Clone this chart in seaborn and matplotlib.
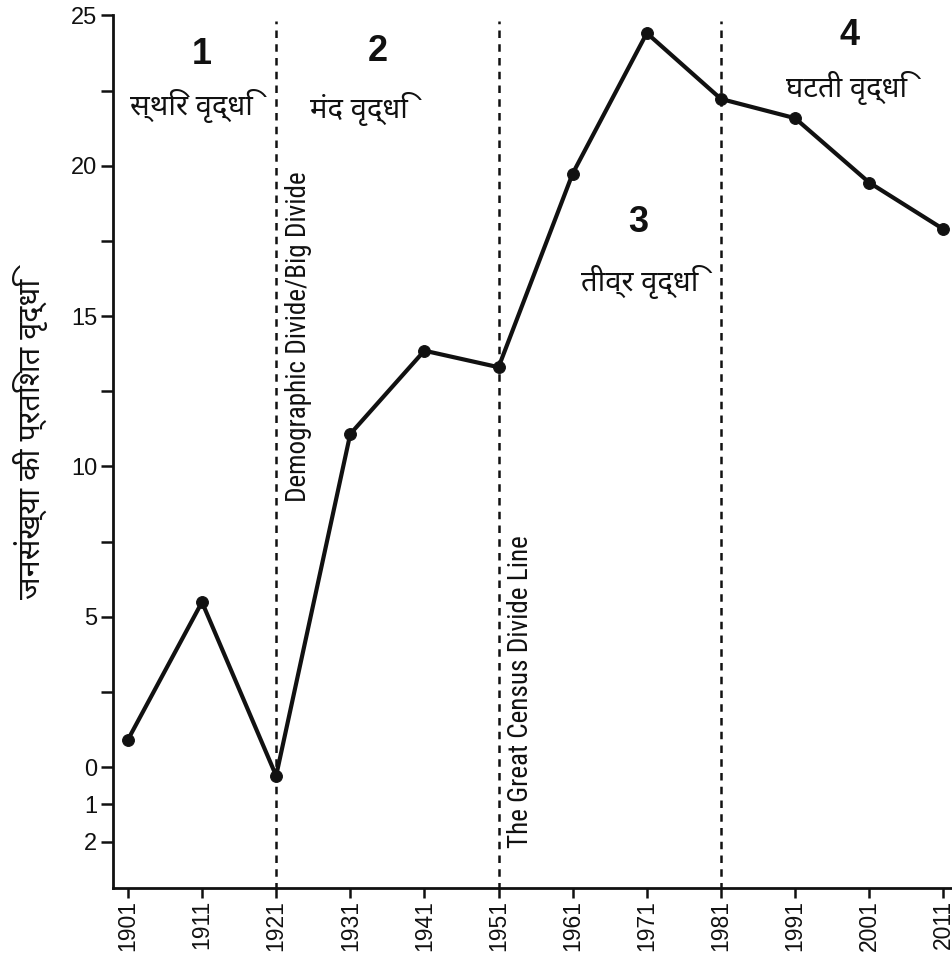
import numpy as np
import matplotlib
matplotlib.use("Agg")
import matplotlib.pyplot as plt
import seaborn as sns

# Decadal population growth of India (%)
years = [1901, 1911, 1921, 1931, 1941, 1951, 1961, 1971, 1981, 1991, 2001, 2011]
growth = [0.91, 5.49, -0.23, 11.08, 13.85, 13.30, 19.74, 24.41, 22.22, 21.58, 19.44, 17.89]

divide_years = [1921, 1951, 1981]
phase_numbers = ["1", "2", "3", "4"]
phase_names = ["स्थिर वृद्धि", "मंद वृद्धि", "तीव्र वृद्धि", "घटती वृद्धि"]
y_label = "जनसंख्या की प्रतिशत वृद्धि"
divide_labels = ["Demographic Divide/Big Divide", "The Great Census Divide Line"]

ytick_vals = [-2, -1, 0, 5, 10, 15, 20, 25]
ytick_labels = ["2", "1", "0", "5", "10", "15", "20", "25"]

sns.set_style("ticks")
sans = ["Liberation Sans", "Arimo", "DejaVu Sans"]
narrow = ["Liberation Sans Narrow", "Roboto Condensed", "Archivo Narrow", "DejaVu Sans"]
deva = ["Noto Sans Devanagari", "Hind", "DejaVu Sans"]
plt.rcParams["font.family"] = sans
ink = "#111111"

fig = plt.figure(figsize=(9.53, 9.59), dpi=100)
ax = fig.add_axes([0.1186, 0.074, 0.8814, 0.91])

# stretched scale below zero, as in the drawing
def fwd(y):
    y = np.asarray(y, dtype=float)
    return np.where(y < 0, y * 1.24, y)

def inv(y):
    y = np.asarray(y, dtype=float)
    return np.where(y < 0, y / 1.24, y)

ax.set_yscale("function", functions=(fwd, inv))

sns.lineplot(x=years, y=growth, ax=ax, color=ink, linewidth=3,
             marker="o", markersize=8.5, markeredgecolor=ink)

for yr in divide_years:
    ax.plot([yr, yr], [-3.3, 24.8], color=ink, linewidth=1.8,
            linestyle=(0, (3, 2.5)), zorder=1)

ax.set_xlim(1899, 2012.3)
ax.set_ylim(-3.24, 25)
ax.set_yticks(ytick_vals)
ax.set_yticklabels(ytick_labels)
ax.set_yticks([2.5, 7.5, 12.5, 17.5, 22.5], minor=True)
ax.set_xticks(years)
ax.set_xticklabels([str(y) for y in years], rotation=90)
ax.tick_params(axis="both", which="both", width=1.8, color=ink, labelcolor=ink)
ax.tick_params(axis="y", which="both", length=8.5, labelsize=17, pad=3)
ax.tick_params(axis="x", length=7, labelsize=16.5, pad=1.5)
sns.despine(ax=ax)
for s in ["left", "bottom"]:
    ax.spines[s].set_linewidth(2)
    ax.spines[s].set_color(ink)

ax.set_ylabel(y_label, fontsize=22, color=ink, family=deva)
ax.yaxis.set_label_coords(-0.078, 0.515)

num_pos = [(1911, 23.7), (1934.7, 23.8), (1969.8, 18.1), (1998.3, 24.33)]
name_pos = [(1909.6, 22.0), (1932.2, 21.9), (1970.1, 16.15), (1998.0, 22.6)]
for (x, y), t in zip(num_pos, phase_numbers):
    ax.text(x, y, t, fontsize=26, fontweight="bold", ha="center", va="center",
            color=ink)
for (x, y), t in zip(name_pos, phase_names):
    ax.text(x, y, t, fontsize=21, ha="center", va="center", color=ink, family=deva)

ax.text(1924, 14.3, divide_labels[0], rotation=90, fontsize=19.5,
        ha="center", va="center", color=ink, family=narrow)
ax.text(1954, 2.5, divide_labels[1], rotation=90, fontsize=19.5,
        ha="center", va="center", color=ink, family=narrow)

fig.savefig("out.png", dpi=100, facecolor="white")
